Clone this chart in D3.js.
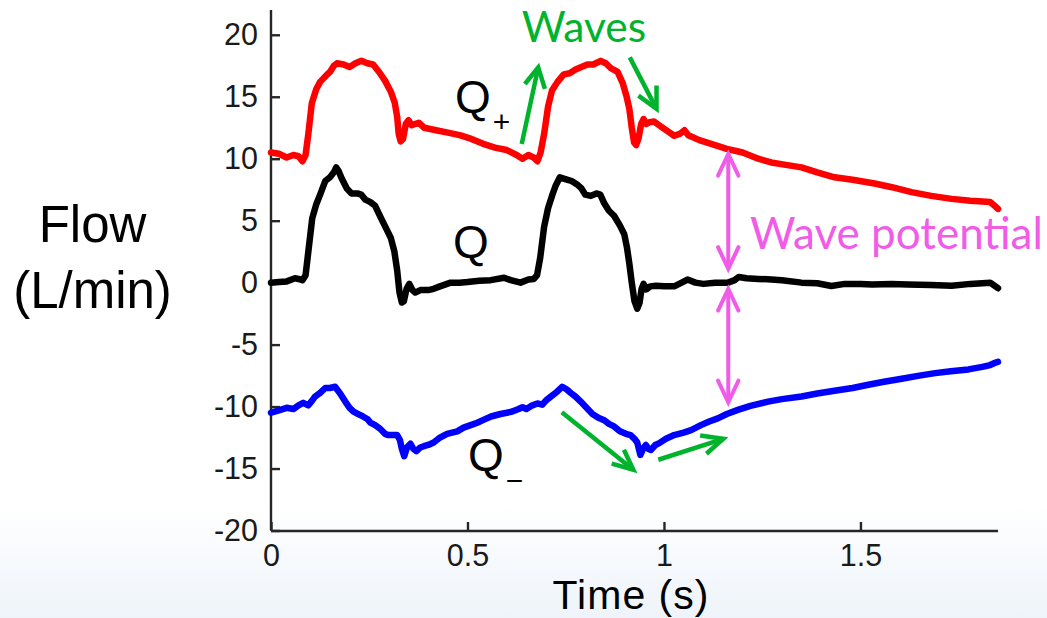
<!DOCTYPE html>
<html>
<head>
<meta charset="utf-8">
<script src="https://cdn.jsdelivr.net/npm/d3@7"></script>
<style>
  html, body { margin: 0; padding: 0; background: #fff; }
  svg { display: block; }
</style>
</head>
<body>
<svg id="chart" width="1047" height="618"></svg>
<script>
// ---------- data ----------
const xTicks = [0, 0.5, 1, 1.5];
const xTickLabels = ["0", "0.5", "1", "1.5"];
const yTicks = [-20, -15, -10, -5, 0, 5, 10, 15, 20];
const yTickLabels = ["-20", "-15", "-10", "-5", "0", "5", "10", "15", "20"];

const qPlusT = [0.000,0.020,0.040,0.057,0.070,0.080,0.088,0.095,0.104,0.115,0.125,0.140,0.150,0.160,0.168,0.185,0.200,0.215,0.230,0.245,0.260,0.275,0.290,0.305,0.315,0.321,0.325,0.330,0.336,0.343,0.350,0.358,0.366,0.376,0.390,0.420,0.450,0.480,0.510,0.540,0.570,0.600,0.625,0.640,0.655,0.668,0.678,0.686,0.695,0.705,0.715,0.729,0.745,0.760,0.775,0.790,0.805,0.820,0.839,0.852,0.865,0.882,0.895,0.905,0.912,0.918,0.924,0.929,0.935,0.942,0.948,0.955,0.963,0.975,0.992,1.010,1.026,1.040,1.052,1.062,1.090,1.120,1.160,1.200,1.240,1.273,1.310,1.350,1.390,1.434,1.480,1.536,1.580,1.630,1.680,1.732,1.780,1.830,1.845,1.850];
const qPlusV = [10.5,10.4,10.1,10.3,10.2,9.8,10.3,12.0,14.5,15.6,16.2,16.7,17.0,17.5,17.7,17.6,17.4,17.7,17.9,17.7,17.6,17.0,16.3,15.4,14.5,13.4,12.0,11.4,11.6,12.8,13.1,12.7,12.8,12.9,12.5,12.3,12.1,11.9,11.6,11.2,10.9,10.7,10.3,10.0,10.3,10.1,9.8,10.5,12.0,14.2,15.5,16.2,16.8,16.9,17.2,17.4,17.6,17.6,17.9,17.7,17.3,17.0,16.1,15.0,14.0,12.5,11.3,11.1,11.6,12.8,13.2,12.8,12.95,13.0,12.6,12.2,11.85,12.0,12.3,11.9,11.5,11.2,10.8,10.5,10.0,9.7,9.5,9.3,8.9,8.5,8.3,8.0,7.7,7.3,7.0,6.76,6.6,6.5,6.1,5.95];

const qT = [0.000,0.020,0.040,0.061,0.070,0.080,0.088,0.095,0.105,0.115,0.125,0.138,0.150,0.160,0.166,0.172,0.180,0.193,0.205,0.220,0.230,0.240,0.253,0.265,0.280,0.291,0.305,0.314,0.321,0.327,0.333,0.338,0.345,0.352,0.360,0.367,0.380,0.400,0.414,0.430,0.457,0.480,0.500,0.530,0.559,0.593,0.610,0.635,0.655,0.669,0.677,0.685,0.695,0.705,0.715,0.724,0.735,0.745,0.755,0.765,0.780,0.790,0.800,0.814,0.828,0.838,0.848,0.860,0.873,0.888,0.899,0.906,0.912,0.918,0.925,0.932,0.938,0.943,0.948,0.955,0.965,0.980,1.000,1.026,1.045,1.060,1.080,1.100,1.130,1.163,1.180,1.190,1.210,1.240,1.264,1.300,1.350,1.390,1.426,1.460,1.500,1.530,1.580,1.620,1.680,1.732,1.780,1.830,1.850];
const qV = [0.0,0.05,0.1,0.35,0.3,0.2,0.6,2.5,5.2,6.3,7.1,8.2,8.5,8.9,9.3,9.0,8.4,7.6,7.2,7.2,7.1,6.7,6.5,6.2,5.2,4.5,3.6,2.5,1.0,-0.8,-1.6,-1.5,-0.5,-0.1,-0.6,-0.8,-0.6,-0.6,-0.5,-0.3,0.0,0.0,0.05,0.15,0.2,0.4,0.2,0.0,0.25,0.3,0.6,2.0,4.5,6.0,7.0,7.8,8.5,8.4,8.3,8.2,7.9,7.6,7.1,7.0,7.2,7.1,6.4,5.8,5.4,4.6,3.9,2.8,1.5,0.0,-1.5,-2.1,-1.6,-0.5,-0.1,-0.55,-0.3,-0.25,-0.3,-0.3,0.0,0.25,0.0,-0.1,0.0,0.0,0.2,0.45,0.35,0.3,0.27,0.2,0.0,-0.05,-0.27,-0.1,-0.1,-0.15,-0.1,-0.15,-0.2,-0.25,-0.1,0.0,-0.45];

const qMinusT = [0.000,0.020,0.040,0.057,0.070,0.082,0.095,0.105,0.112,0.125,0.138,0.150,0.163,0.175,0.189,0.200,0.210,0.222,0.234,0.245,0.253,0.265,0.278,0.290,0.299,0.310,0.321,0.328,0.333,0.339,0.346,0.355,0.362,0.370,0.380,0.389,0.400,0.414,0.430,0.448,0.474,0.490,0.508,0.525,0.542,0.560,0.584,0.600,0.614,0.630,0.640,0.650,0.665,0.678,0.690,0.700,0.712,0.728,0.741,0.752,0.763,0.775,0.788,0.803,0.818,0.833,0.848,0.860,0.873,0.888,0.903,0.915,0.925,0.932,0.940,0.947,0.954,0.960,0.967,0.978,0.988,1.005,1.026,1.050,1.069,1.094,1.115,1.137,1.160,1.188,1.220,1.265,1.300,1.350,1.390,1.434,1.480,1.520,1.560,1.605,1.650,1.690,1.730,1.775,1.810,1.830,1.840,1.850];
const qMinusV = [-10.5,-10.3,-10.1,-10.2,-9.9,-9.7,-9.9,-9.5,-9.2,-8.9,-8.5,-8.5,-8.4,-8.9,-9.6,-10.1,-10.4,-10.6,-10.8,-11.0,-11.3,-11.5,-11.8,-12.2,-12.3,-12.3,-12.3,-12.7,-13.4,-14.0,-13.3,-13.0,-13.4,-13.6,-13.3,-13.2,-13.1,-12.9,-12.5,-12.2,-12.0,-11.7,-11.5,-11.3,-11.05,-10.8,-10.6,-10.5,-10.4,-10.2,-10.05,-10.2,-9.9,-9.75,-9.85,-9.5,-9.2,-8.8,-8.4,-8.6,-8.9,-9.2,-9.6,-10.1,-10.6,-10.9,-11.1,-11.4,-11.6,-12.0,-12.2,-12.3,-12.6,-12.9,-13.9,-13.4,-13.1,-13.4,-13.5,-13.1,-12.95,-12.6,-12.3,-12.1,-11.9,-11.5,-11.2,-10.95,-10.6,-10.27,-9.95,-9.6,-9.4,-9.19,-8.95,-8.73,-8.5,-8.24,-8.0,-7.76,-7.5,-7.3,-7.15,-7.0,-6.8,-6.65,-6.5,-6.4];

// annotation arrows in data coordinates: [t, flow]
const greenArrows = [
  { from: [0.638, 11.19], tip: [0.680, 17.37], head: [[0.646, 16.03], [0.697, 15.63]] },
  { from: [0.913, 18.18], tip: [0.981, 14.02], head: [[0.935, 15.09], [0.981, 15.90]] },
  { from: [0.740, -10.45], tip: [0.922, -15.10], head: [[0.867, -14.61], [0.898, -13.48]] },
  { from: [0.9855, -14.29], tip: [1.151, -12.60], head: [[1.092, -12.33], [1.108, -13.81]] }
];
const magentaArrows = [
  { t: 1.1636, top: 10.39, bottom: 1.11 },
  { t: 1.1636, top: -0.50, bottom: -9.65 }
];

// ---------- layout ----------
const svg = d3.select("#chart");
const x = d3.scaleLinear().domain([0, 1.85]).range([271, 998]);
const y = d3.scaleLinear().domain([-20, 22]).range([530.5, 10]);

// faint bluish background at the bottom
const defs = svg.append("defs");
const grad = defs.append("linearGradient").attr("id", "bg").attr("x1", 0).attr("x2", 0).attr("y1", 0).attr("y2", 1);
grad.append("stop").attr("offset", "0%").attr("stop-color", "#ffffff");
grad.append("stop").attr("offset", "100%").attr("stop-color", "#eef4fa");
svg.append("rect").attr("x", 0).attr("y", 505).attr("width", 1047).attr("height", 113).attr("fill", "url(#bg)");

const axisColor = "#262626";
const tickFont = "'Liberation Sans', Arial, Helvetica, sans-serif";

const gx = svg.append("g").attr("transform", "translate(0,531)")
  .call(d3.axisBottom(x).tickValues(xTicks).tickFormat((d, i) => xTickLabels[i])
    .tickSize(-9).tickSizeOuter(0).tickPadding(13.5));
const gy = svg.append("g").attr("transform", "translate(271,0)")
  .call(d3.axisLeft(y).tickValues(yTicks).tickFormat((d, i) => yTickLabels[i])
    .tickSize(-9).tickSizeOuter(0).tickPadding(13));
[gx, gy].forEach(g => {
  g.select(".domain").attr("stroke", axisColor).attr("stroke-width", 2.4);
  g.selectAll(".tick line").attr("stroke", axisColor).attr("stroke-width", 2.4);
  g.selectAll(".tick text").attr("fill", "#1a1a1a").attr("font-family", tickFont).attr("font-size", 30.5);
});
gx.select(".domain").attr("d", "M271,0H998");
gy.select(".domain").attr("d", "M0,530.5V10");

// axis titles
svg.append("text").attr("x", 631).attr("y", 609).attr("text-anchor", "middle")
  .attr("font-family", tickFont).attr("font-size", 41).attr("letter-spacing", 1)
  .attr("fill", "#000").text("Time (s)");
svg.append("text").attr("x", 92.5).attr("y", 242).attr("text-anchor", "middle")
  .attr("font-family", tickFont).attr("font-size", 51).attr("fill", "#000").text("Flow");
svg.append("text").attr("x", 92.5).attr("y", 308).attr("text-anchor", "middle")
  .attr("font-family", tickFont).attr("font-size", 51).attr("fill", "#000").text("(L/min)");

// ---------- series ----------
const line = d3.line().x(d => x(d[0])).y(d => y(d[1])).curve(d3.curveLinear);
const series = [
  { t: qPlusT, v: qPlusV, color: "#ff0000" },
  { t: qT, v: qV, color: "#000000" },
  { t: qMinusT, v: qMinusV, color: "#0000ff" }
];
series.forEach(s => {
  svg.append("path").datum(s.t.map((t, i) => [t, s.v[i]]))
    .attr("d", line).attr("fill", "none").attr("stroke", s.color)
    .attr("stroke-width", 6.5).attr("stroke-linejoin", "round").attr("stroke-linecap", "round");
});

// ---------- labels ----------
const qFont = "'Liberation Sans', Arial, Helvetica, sans-serif";
const qp = svg.append("text").attr("x", x(0.468)).attr("y", y(13.72))
  .attr("font-family", qFont).attr("font-size", 46).attr("fill", "#000");
qp.append("tspan").text("Q");
qp.append("tspan").attr("font-size", 30).attr("dx", 2).attr("dy", 19).text("+");

svg.append("text").attr("x", x(0.463)).attr("y", y(2.02))
  .attr("font-family", qFont).attr("font-size", 46).attr("fill", "#000").text("Q");

const qm = svg.append("text").attr("x", x(0.501)).attr("y", y(-15.2))
  .attr("font-family", qFont).attr("font-size", 46).attr("fill", "#000");
qm.append("tspan").text("Q");
qm.append("tspan").attr("font-size", 30).attr("dx", 2).attr("dy", 20).text("\u2212");

const annFont = "Lato, 'Open Sans', sans-serif";
const green = "#00b32d";
const magenta = "#f05ce8";
svg.append("text").attr("x", x(0.638)).attr("y", y(19.38))
  .attr("font-family", annFont).attr("font-size", 42.5).attr("fill", green).text("Waves");
svg.append("text").attr("x", x(1.219)).attr("y", y(2.73))
  .attr("font-family", annFont).attr("font-size", 44).attr("fill", magenta).text("Wave potential");

// ---------- arrows ----------
greenArrows.forEach(a => {
  svg.append("line").attr("x1", x(a.from[0])).attr("y1", y(a.from[1]))
    .attr("x2", x(a.tip[0])).attr("y2", y(a.tip[1]))
    .attr("stroke", green).attr("stroke-width", 4.5);
  svg.append("polyline")
    .attr("points", [a.head[0], a.tip, a.head[1]].map(p => x(p[0]) + "," + y(p[1])).join(" "))
    .attr("fill", "none").attr("stroke", green).attr("stroke-width", 4.5)
    .attr("stroke-linejoin", "miter");
});
const headW = 0.026, headL = 1.75;
magentaArrows.forEach(a => {
  svg.append("line").attr("x1", x(a.t)).attr("y1", y(a.top)).attr("x2", x(a.t)).attr("y2", y(a.bottom))
    .attr("stroke", magenta).attr("stroke-width", 4);
  // top tip: barbs go down (lower flow); bottom tip: barbs go up (higher flow)
  [[a.top, -headL], [a.bottom, headL]].forEach(([v, d]) => {
    svg.append("polyline")
      .attr("points", [[a.t - headW, v + d], [a.t, v], [a.t + headW, v + d]]
        .map(p => x(p[0]) + "," + y(p[1])).join(" "))
      .attr("fill", "none").attr("stroke", magenta).attr("stroke-width", 4)
      .attr("stroke-linecap", "round");
  });
});
</script>
</body>
</html>
